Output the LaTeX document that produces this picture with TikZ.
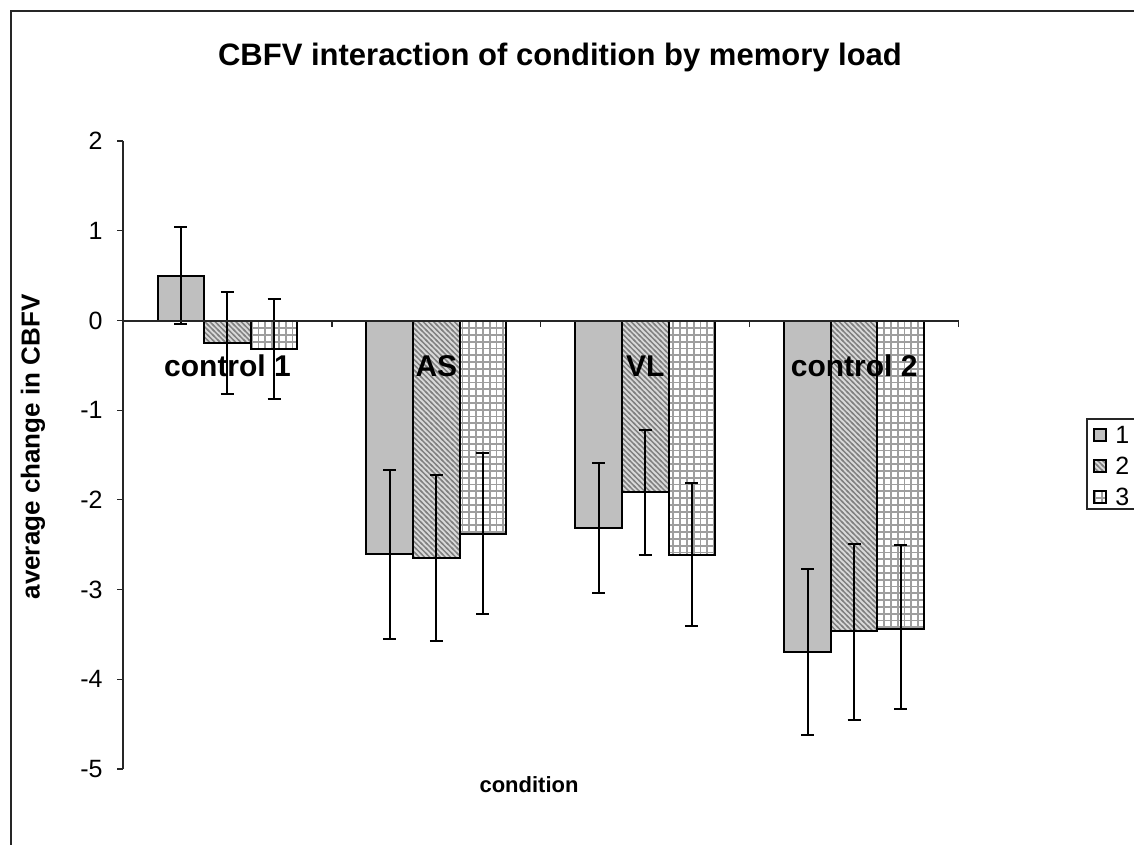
\documentclass[tikz,border=0pt]{standalone}
\usepackage{fontspec}
\setmainfont{Liberation Sans}
\usetikzlibrary{patterns}
% coarser patterns like the chart's fills
\pgfdeclarepatternformonly{loadstripes}{\pgfqpoint{-1pt}{-1pt}}{\pgfqpoint{3.6pt}{3.6pt}}{\pgfqpoint{2.6pt}{2.6pt}}{
  \pgfsetlinewidth{0.7pt}
  \pgfpathmoveto{\pgfqpoint{-0.5pt}{3.1pt}}\pgfpathlineto{\pgfqpoint{3.1pt}{-0.5pt}}
  \pgfusepath{stroke}}
\pgfdeclarepatternformonly{loadgrid}{\pgfqpoint{-1pt}{-1pt}}{\pgfqpoint{4.4pt}{4.4pt}}{\pgfqpoint{3.4pt}{3.4pt}}{
  \pgfsetlinewidth{0.9pt}
  \pgfpathmoveto{\pgfqpoint{0pt}{-0.5pt}}\pgfpathlineto{\pgfqpoint{0pt}{3.9pt}}
  \pgfpathmoveto{\pgfqpoint{-0.5pt}{0pt}}\pgfpathlineto{\pgfqpoint{3.9pt}{0pt}}
  \pgfusepath{stroke}}

\begin{document}
\begin{tikzpicture}[x=0.5pt,y=-0.5pt,
    font=\fontsize{12.5}{15}\selectfont,
    axis/.style={line width=0.6pt,black!85},
    bar1/.style={draw,line width=1pt,fill=black!25},
    bar2/.style={draw,line width=1pt,preaction={fill=black!15},pattern=loadstripes,pattern color=black!50},
    bar3/.style={draw,line width=1pt,preaction={fill=white},pattern=loadgrid,pattern color=black!38},
    errbar/.style={line width=1pt},
    catlabel/.style={font=\fontsize{15}{17}\selectfont\bfseries,anchor=base,inner sep=0pt}]
    \useasboundingbox (0,0) rectangle (1134,845);
    \draw[axis] (11,845) -- (11,11) -- (1134,11);
    \node[font=\fontsize{15.5}{18}\selectfont\bfseries] (title) at (560,57) {CBFV interaction of condition by memory load};
    % y axis with ticks
    \draw[axis] (123,141) -- (123,769);
    \foreach \v [count=\i from 0] in {2,1,0,-1,-2,-3,-4,-5} {\draw[axis] (117,141+89.7*\i) -- (123,141+89.7*\i);
      \node[anchor=east,inner sep=0pt] (ytick\i) at (103,141+89.7*\i) {\v};}
    % bars and error bars, group/bar/value/high/low
    \begin{scope}[shift={(0,321)},y={(0pt,44.85pt)}]
      \foreach \g/\j/\v/\hi/\lo in {0/1/0.50/1.05/-0.03, 0/2/-0.24/0.32/-0.81, 0/3/-0.31/0.25/-0.87,
          1/1/-2.60/-1.66/-3.55, 1/2/-2.64/-1.72/-3.57, 1/3/-2.38/-1.47/-3.27,
          2/1/-2.31/-1.58/-3.03, 2/2/-1.91/-1.21/-2.61, 2/3/-2.61/-1.81/-3.40,
          3/1/-3.69/-2.76/-4.62, 3/2/-3.46/-2.49/-4.45, 3/3/-3.43/-2.50/-4.33} {
        \pgfmathsetmacro\xa{123+208.9*\g+34.5+46.6*(\j-1)}
        \pgfmathsetmacro\xm{\xa+23.3}
        \draw[bar\j] (\xa,0) rectangle (\xa+46.6,\v);
        \draw[errbar] (\xm,\lo) -- (\xm,\hi) (\xm-6.5,\lo) -- (\xm+6.5,\lo) (\xm-6.5,\hi) -- (\xm+6.5,\hi);
      }
    \end{scope}
    % x axis with ticks
    \draw[axis] (123,321) -- (959,321);
    \foreach \i in {0,...,4} {\draw[axis] (123+208.9*\i,321) -- (123+208.9*\i,327);}
    \foreach \lab [count=\i from 0] in {control 1,AS,VL,control 2} {\node[catlabel] (cat\i) at (227.5+208.9*\i,376) {\lab};}
    \node[rotate=90,font=\fontsize{13}{15}\selectfont\bfseries] (ylabel) at (33,447) {average change in CBFV};
    \node[font=\fontsize{11}{13}\selectfont\bfseries] (xlabel) at (529,785) {condition};
    % legend
    \draw[axis] (1134,419) -- (1087,419) -- (1087,509) -- (1134,509);
    \foreach \j/\yy in {1/435,2/466,3/497} {\draw[bar\j,line width=0.8pt] (1094,\yy-6) rectangle (1106,\yy+6);
      \node[anchor=west,inner sep=0pt] (leg\j) at (1115,\yy) {\j};}
\end{tikzpicture}
\end{document}
